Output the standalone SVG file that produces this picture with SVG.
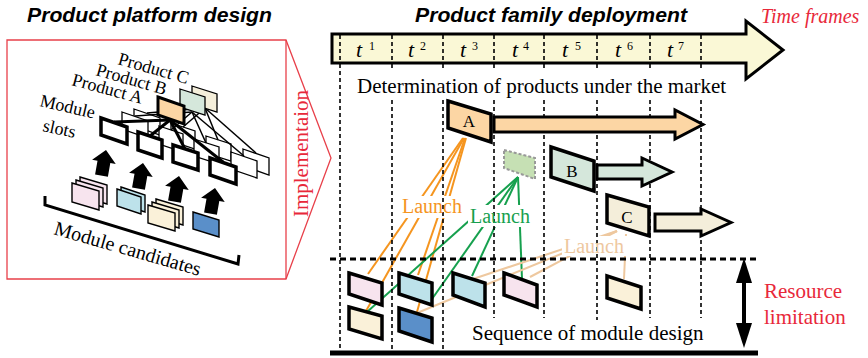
<svg xmlns="http://www.w3.org/2000/svg" width="868" height="358" viewBox="0 0 868 358">
<style>
.serif{font-family:"Liberation Serif","Times New Roman",serif;fill:#000;}
.title{font-family:"Liberation Sans",Arial,sans-serif;font-weight:bold;font-style:italic;font-size:20px;fill:#000;}
.red{fill:#E8283A;}
.grid{stroke:#000;stroke-width:1.6;stroke-dasharray:4 3;fill:none;}
.thk{stroke:#000;stroke-width:3.5;stroke-linejoin:miter;}
.thn{stroke:#000;stroke-width:1.3;}
.or{stroke:#F5951F;stroke-width:2;fill:none;}
.gr{stroke:#16A04E;stroke-width:2;fill:none;}
.tn{stroke:#EEC89F;stroke-width:2;fill:none;}
.pk{fill:#F7E4EE;}
.lb{fill:#BDE2EA;}
.cr{fill:#FAF1D9;}
.db{fill:#5A8FC9;}
.wh{fill:#FFFFFF;}
.pe{fill:#FCD6A4;}
.gg{fill:#D5E7DB;}
</style>
<defs>
<path id="uparrow" d="M0,0 L12,12 L6.5,12 L6.5,26 L-6.5,26 L-6.5,12 L-12,12 Z" fill="#000"/>
</defs>

<!-- Titles -->
<text class="title" x="27" y="22" textLength="245" lengthAdjust="spacingAndGlyphs">Product platform design</text>
<text class="title" x="415" y="22" textLength="272" lengthAdjust="spacingAndGlyphs">Product family deployment</text>
<text class="serif red" x="761" y="23" font-size="20" font-style="italic">Time frames</text>

<!-- Left platform frame -->
<g id="platform-frame">
<polygon points="7,40 286,40 331,158 286,279 7,279" fill="none" stroke="#E8404A" stroke-width="1.3"/>
<line x1="286" y1="40" x2="286" y2="279" stroke="#E8404A" stroke-width="1.3"/>
<text class="serif red" x="0" y="0" font-size="22" textLength="127" lengthAdjust="spacingAndGlyphs" transform="translate(308,217) rotate(-90)">Implementaion</text>
</g>

<!-- Back rows of module slots -->
<g id="slots-back" class="wh thn">
<polygon points="134,109 160,118 160,135 134,126"/>
<polygon points="171,123 195,131 195,149 171,141"/>
<polygon points="206,136 231,144 231,161 206,153"/>
<polygon points="243,149 269,158 269,175 243,166"/>
<polygon points="122,112 148,121 148,138 122,129"/>
<polygon points="159,126 183,134 183,152 159,144"/>
<polygon points="194,139 219,147 219,164 194,156"/>
<polygon points="231,152 257,161 257,178 231,169"/>
</g>

<g id="platform-links" fill="none" stroke="#000">
<g stroke-width="1.5">
<line x1="205" y1="108" x2="147" y2="113"/>
<line x1="205" y1="108" x2="183" y2="127"/>
<line x1="205" y1="108" x2="218" y2="140"/>
<line x1="205" y1="108" x2="256" y2="153"/>
<line x1="192" y1="112" x2="135" y2="116"/>
<line x1="192" y1="112" x2="171" y2="130"/>
<line x1="192" y1="112" x2="206" y2="143"/>
<line x1="192" y1="112" x2="244" y2="156"/>
</g>
<g stroke-width="3">
<line x1="170" y1="120" x2="114" y2="122"/>
<line x1="170" y1="120" x2="150" y2="136"/>
<line x1="170" y1="120" x2="185" y2="149"/>
<line x1="170" y1="120" x2="223" y2="162"/>
</g>
</g>

<g id="slots-front" class="wh thk">
<polygon points="101,118 127,127 127,144 101,135"/>
<polygon points="138,132 162,140 162,158 138,150"/>
<polygon points="173,145 198,153 198,170 173,162"/>
<polygon points="210,158 236,167 236,184 210,175"/>
</g>

<g id="product-boxes">
<polygon points="192,86 217,94 217,112 192,104" fill="#F4EEDA" class="thn"/>
<polygon points="180,89 205,97 205,115 180,107" class="gg thn"/>
<polygon points="158,97 184,106 184,124 158,115" class="pe" stroke="#000" stroke-width="3"/>
</g>

<g id="platform-labels" class="serif" font-size="18">
<text x="117" y="64" transform="rotate(16 117 64)">Product C</text>
<text x="95" y="75" transform="rotate(16 95 75)">Product B</text>
<text x="71" y="85" transform="rotate(15 71 85)">Product A</text>
<text x="39" y="106" transform="rotate(13 39 106)">Module</text>
<text x="42" y="131" transform="rotate(12 42 131)">slots</text>
</g>

<g id="up-arrows">
<use href="#uparrow" transform="translate(106,150) rotate(10)"/>
<use href="#uparrow" transform="translate(143,163) rotate(10)"/>
<use href="#uparrow" transform="translate(179,176) rotate(10)"/>
<use href="#uparrow" transform="translate(215,188) rotate(10)"/>
</g>

<g id="module-candidates" stroke="#000" stroke-width="1.4">
<polygon class="pk" points="80,177 107,185 107,204 80,196"/>
<polygon class="pk" points="76,180 103,188 103,207 76,199"/>
<polygon class="pk" points="72,183 99,191 99,210 72,202"/>
<polygon class="lb" points="121,187 145,195 145,212 121,204"/>
<polygon class="lb" points="117,189 141,197 141,214 117,206"/>
<polygon class="cr" points="156,199 183,207 183,225 156,217"/>
<polygon class="cr" points="152,202 179,210 179,228 152,220"/>
<polygon class="cr" points="148,205 175,213 175,231 148,223"/>
<polygon class="db" points="193,212 219,220 219,237 193,229"/>
<polyline points="45,196 45,205 238,264 239,255" fill="none" stroke-width="3"/>
<text class="serif" x="53" y="234" font-size="20" stroke="none" transform="rotate(16 53 234)">Module candidates</text>
</g>

<!-- Timeline -->
<g id="timeline">
<polygon points="332,34 746,34 746,21 783,50 746,79 746,63 332,63" fill="#FAF8D6" stroke="#000" stroke-width="3"/>
<g class="serif" font-size="22">
<text x="356" y="57" font-style="italic">t</text><text x="369" y="50" font-size="12">1</text>
<text x="408" y="57" font-style="italic">t</text><text x="420" y="50" font-size="12">2</text>
<text x="460" y="57" font-style="italic">t</text><text x="472" y="50" font-size="12">3</text>
<text x="512" y="57" font-style="italic">t</text><text x="523" y="50" font-size="12">4</text>
<text x="562" y="57" font-style="italic">t</text><text x="575" y="50" font-size="12">5</text>
<text x="615" y="57" font-style="italic">t</text><text x="627" y="50" font-size="12">6</text>
<text x="667" y="57" font-style="italic">t</text><text x="678" y="50" font-size="12">7</text>
</g>
</g>

<!-- Connectors -->
<g id="connectors">
<g class="or">
<line x1="463" y1="138" x2="368" y2="274"/>
<line x1="464" y1="138" x2="366" y2="311"/>
<line x1="465" y1="138" x2="418" y2="275"/>
<line x1="466" y1="138" x2="417" y2="312"/>
</g>
<g class="gr">
<line x1="518" y1="177" x2="367" y2="312"/>
<line x1="518" y1="177" x2="432" y2="299"/>
<line x1="518" y1="177" x2="472" y2="276"/>
<line x1="518" y1="177" x2="522" y2="279"/>
</g>
<g class="tn">
<line x1="617" y1="231" x2="473" y2="279"/>
<line x1="617" y1="231" x2="417" y2="313"/>
<line x1="617" y1="231" x2="530" y2="277"/>
<line x1="626" y1="234" x2="624" y2="279"/>
</g>
<rect x="400" y="196" width="66" height="22" fill="#fff"/>
<rect x="468" y="205" width="66" height="22" fill="#fff"/>
<rect x="562" y="236" width="67" height="20" fill="#fff"/>
</g>

<!-- Grid -->
<g id="grid" class="grid">
<path d="M340,35V62 M392,35V62 M443,35V62 M494,35V62 M544,35V62 M597,35V62 M650,35V62 M701,35V62"/>
<path d="M340,64V350 M392,64V70 M392,100V350 M443,64V70 M443,100V350 M494,64V70 M494,100V318 M544,64V70 M544,100V318 M597,64V70 M597,100V320 M650,64V70 M650,100V318 M701,64V70 M701,100V318"/>
<line x1="330" y1="259" x2="757" y2="259" stroke-width="3" stroke-dasharray="6 4"/>
</g>
<line x1="330" y1="353" x2="758" y2="353" stroke="#000" stroke-width="5"/>

<g id="launch-labels" class="serif" font-size="20">
<text x="402" y="213" style="fill:#F5951F">Launch</text>
<text x="470" y="223" style="fill:#16A04E">Launch</text>
<text x="564" y="253" style="fill:#EEC89F">Launch</text>
</g>

<g id="texts" class="serif" font-size="21">
<text x="357" y="93">Determination of products under the market</text>
<text x="472" y="340">Sequence of module design</text>
<text x="764" y="298" class="red">Resource</text>
<text x="764" y="324" class="red">limitation</text>
</g>

<g id="resource-arrow">
<line x1="744" y1="278" x2="744" y2="328" stroke="#000" stroke-width="4"/>
<polygon points="744,258 752,283 736,283" fill="#000"/>
<polygon points="744,348 752,323 736,323" fill="#000"/>
</g>

<!-- Products -->
<g id="product-A">
<polygon points="494,117 675,117 675,110 703,124.5 675,139 675,132 494,132" class="pe" stroke="#000" stroke-width="3"/>
<polygon points="448,101 491,114 491,142 448,128" class="pe thk"/>
<text class="serif" x="469" y="127" font-size="17" text-anchor="middle">A</text>
</g>
<g id="product-B">
<polygon points="597,165 642,165 642,158 672,172 642,186 642,179 597,179" class="gg" stroke="#000" stroke-width="3"/>
<polygon points="551,147 594,161 594,191 551,177" class="gg thk"/>
<text class="serif" x="572" y="177" font-size="17" text-anchor="middle">B</text>
</g>
<g id="product-C">
<polygon points="655,214 701,214 701,209 731,222.5 701,236 701,231 655,231" fill="#F4EEDA" stroke="#000" stroke-width="3"/>
<polygon points="607,195 649,207 649,236 607,223" fill="#F4EEDA" class="thk"/>
<text class="serif" x="627" y="223" font-size="17" text-anchor="middle">C</text>
</g>
<g id="product-tentative">
<polygon points="504,150 535,158 535,179 504,168" fill="#C6E0B4" stroke="#999" stroke-width="2" stroke-dasharray="3 2"/>
</g>

<g id="modules" class="thk">
<polygon class="pk" points="349,273 382,283 382,305 349,294"/>
<polygon class="cr" points="349,307 382,316 382,339 349,329"/>
<polygon class="lb" points="399,273 432,283 432,305 399,294"/>
<polygon class="db" points="399,308 432,318 432,342 399,331"/>
<polygon class="lb" points="453,273 485,283 485,307 453,295"/>
<polygon class="pk" points="504,273 537,285 537,307 504,295"/>
<polygon class="cr" points="607,276 641,287 641,309 607,298"/>
</g>
</svg>
